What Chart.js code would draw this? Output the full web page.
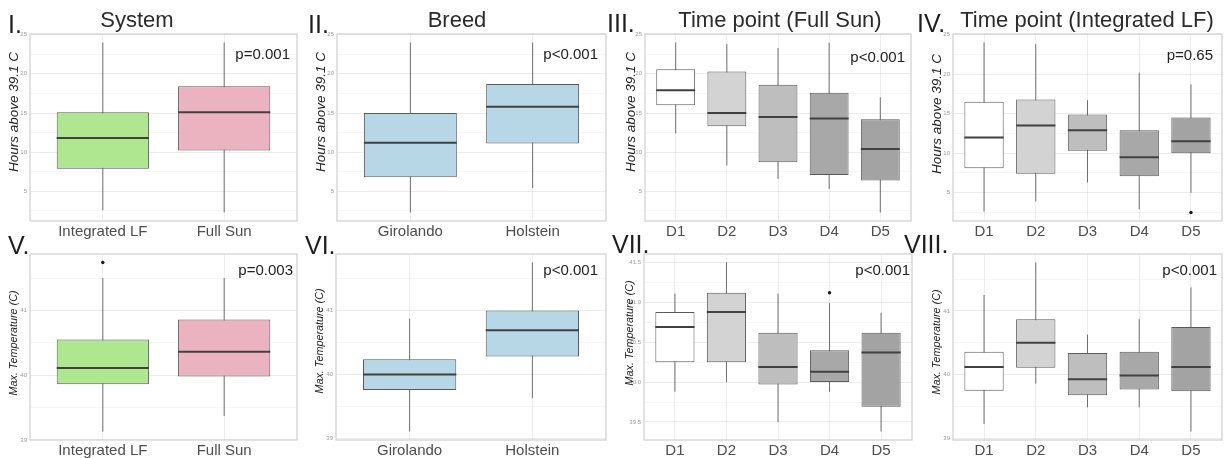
<!DOCTYPE html>
<html>
<head>
<meta charset="utf-8">
<script src="https://cdn.jsdelivr.net/npm/chart.js@4.4.1/dist/chart.umd.min.js"></script>
<style>
  body { margin: 0; background: #fff; }
  #page { position: relative; width: 1231px; height: 458px; overflow: hidden; font-family: "Liberation Sans", Arial, sans-serif; }
  #page canvas { position: absolute; }
  .txt { position: absolute; white-space: nowrap; line-height: 1; }
  .ytitle { position: absolute; white-space: nowrap; line-height: 1; font-style: italic; color: #222; transform: translate(-50%, -50%) rotate(-90deg); }
</style>
</head>
<body>
<div id="page"></div>
<script>
// categories
const systemCats = ['Integrated LF', 'Full Sun'];
const breedCats = ['Girolando', 'Holstein'];
const dayCats = ['D1', 'D2', 'D3', 'D4', 'D5'];

// tick labels
const hoursTicks = [5, 10, 15, 20, 25];
const tempTicks = [39, 40, 41];
const tempTicksFine = [39.5, 40.0, 40.5, 41.0, 41.5];

// I. hours above 39.1 C by system
const sysHoursLow = [2.6, 2.3];
const sysHoursQ1 = [7.9, 10.2];
const sysHoursMed = [11.8, 15.1];
const sysHoursQ3 = [15.1, 18.4];
const sysHoursHigh = [24.0, 24.0];

// II. hours by breed
const breedHoursLow = [2.3, 5.4];
const breedHoursQ1 = [6.8, 11.1];
const breedHoursMed = [11.2, 15.8];
const breedHoursQ3 = [15.0, 18.7];
const breedHoursHigh = [24.0, 24.0];

// III. hours by day, full sun
const fsHoursLow = [12.4, 8.3, 6.6, 5.3, 2.3];
const fsHoursQ1 = [16.0, 13.3, 8.7, 7.1, 6.4];
const fsHoursMed = [17.9, 15.0, 14.5, 14.3, 10.4];
const fsHoursQ3 = [20.6, 20.3, 18.6, 17.6, 14.2];
const fsHoursHigh = [24.0, 23.8, 23.3, 24.0, 17.0];

// IV. hours by day, integrated LF
const ilHoursLow = [2.6, 3.9, 6.3, 2.9, 5.0];
const ilHoursQ1 = [8.1, 7.4, 10.3, 7.1, 10.0];
const ilHoursMed = [12.0, 13.5, 12.9, 9.5, 11.5];
const ilHoursQ3 = [16.5, 16.8, 14.9, 12.9, 14.5];
const ilHoursHigh = [24.0, 23.8, 16.7, 20.2, 18.7];
const ilHoursOut = [[4, 2.5]];

// V. max temperature by system
const sysTempLow = [39.13, 39.37];
const sysTempQ1 = [39.86, 39.98];
const sysTempMed = [40.11, 40.36];
const sysTempQ3 = [40.55, 40.86];
const sysTempHigh = [41.5, 41.5];
const sysTempOut = [[0, 41.74]];

// VI. max temperature by breed
const breedTempLow = [39.11, 39.63];
const breedTempQ1 = [39.76, 40.28];
const breedTempMed = [40.0, 40.69];
const breedTempQ3 = [40.24, 41.0];
const breedTempHigh = [40.87, 41.75];

// VII. max temperature by day, full sun
const fsTempLow = [39.88, 40.0, 39.5, 39.88, 39.38];
const fsTempQ1 = [40.25, 40.25, 39.97, 40.0, 39.69];
const fsTempMed = [40.69, 40.88, 40.19, 40.13, 40.37];
const fsTempQ3 = [40.88, 41.12, 40.62, 40.4, 40.62];
const fsTempHigh = [41.11, 41.5, 41.11, 40.99, 40.87];
const fsTempOut = [[3, 41.12]];

// VIII. max temperature by day, integrated LF
const ilTempLow = [39.23, 39.86, 39.49, 39.49, 39.11];
const ilTempQ1 = [39.75, 40.11, 39.68, 39.77, 39.74];
const ilTempMed = [40.12, 40.5, 39.93, 39.99, 40.12];
const ilTempQ3 = [40.36, 40.87, 40.34, 40.36, 40.75];
const ilTempHigh = [41.25, 41.76, 40.63, 40.87, 41.37];

// box colours
const systemFill = ['#aee78f', '#ebb3bf'];
const breedFill = ['#b7d6e6', '#b7d6e6'];
const dayFill = ['#ffffff', '#d3d3d3', '#bebebe', '#a8a8a8', '#a3a3a3'];

const page = document.getElementById('page');
const FONT = '"Liberation Sans", Arial, sans-serif';
const BOX_W = 0.76;

const panels = [
    { cats: systemCats, low: sysHoursLow, q1: sysHoursQ1, med: sysHoursMed, q3: sysHoursQ3, high: sysHoursHigh, out: [],
      fill: systemFill, ticks: hoursTicks, rect: [30, 34, 297, 221] },
    { cats: breedCats, low: breedHoursLow, q1: breedHoursQ1, med: breedHoursMed, q3: breedHoursQ3, high: breedHoursHigh, out: [],
      fill: breedFill, ticks: hoursTicks, rect: [337, 34, 606, 221] },
    { cats: dayCats, low: fsHoursLow, q1: fsHoursQ1, med: fsHoursMed, q3: fsHoursQ3, high: fsHoursHigh, out: [],
      fill: dayFill, ticks: hoursTicks, rect: [645, 34, 911, 221] },
    { cats: dayCats, low: ilHoursLow, q1: ilHoursQ1, med: ilHoursMed, q3: ilHoursQ3, high: ilHoursHigh, out: ilHoursOut,
      fill: dayFill, ticks: hoursTicks, rect: [953, 34, 1222, 221] },
    { cats: systemCats, low: sysTempLow, q1: sysTempQ1, med: sysTempMed, q3: sysTempQ3, high: sysTempHigh, out: sysTempOut,
      fill: systemFill, ticks: tempTicks, rect: [30, 254, 297, 440] },
    { cats: breedCats, low: breedTempLow, q1: breedTempQ1, med: breedTempMed, q3: breedTempQ3, high: breedTempHigh, out: [],
      fill: breedFill, ticks: tempTicks, rect: [336, 254, 606, 440] },
    { cats: dayCats, low: fsTempLow, q1: fsTempQ1, med: fsTempMed, q3: fsTempQ3, high: fsTempHigh, out: fsTempOut,
      fill: dayFill, ticks: tempTicksFine, fixed: 1, rect: [644, 254, 912, 440] },
    { cats: dayCats, low: ilTempLow, q1: ilTempQ1, med: ilTempMed, q3: ilTempQ3, high: ilTempHigh, out: [],
      fill: dayFill, ticks: tempTicks, rect: [953, 254, 1222, 440] }
];

// grey panel border on top of everything
const frame = {
    id: 'frame',
    afterDraw(chart) {
        const a = chart.chartArea;
        const c = chart.ctx;
        c.save();
        c.strokeStyle = '#cfcfcf';
        c.lineWidth = 1.2;
        c.strokeRect(a.left, a.top, a.right - a.left, a.bottom - a.top);
        c.restore();
    }
};

function makePanel(p) {
    const [L, T, R, B] = p.rect;
    const axisW = 30, axisH = 22, padT = 7, padR = 4;
    const canvas = document.createElement('canvas');
    canvas.width = R - L + axisW + padR;
    canvas.height = B - T + padT + axisH;
    canvas.style.left = (L - axisW) + 'px';
    canvas.style.top = (T - padT) + 'px';
    page.appendChild(canvas);

    const n = p.cats.length;
    // ggplot style range: data range plus 5% each side
    const all = p.low.concat(p.high, p.out.map(o => o[1]));
    const lo = Math.min(...all), hi = Math.max(...all);
    const yMin = lo - (hi - lo) * 0.05;
    const yMax = hi + (hi - lo) * 0.05;

    // major ticks plus minor lines halfway between
    const half = (p.ticks[1] - p.ticks[0]) / 2;
    const yVals = [];
    for (let k = -1; k <= p.ticks.length * 2; k++) {
        const v = p.ticks[0] + k * half;
        if (v >= yMin && v <= yMax) yVals.push(v);
    }
    const isMajor = v => p.ticks.some(t => Math.abs(t - v) < 1e-6);

    const whiskers = p.cats.flatMap((_, i) => [
        { x: i + 1, y: p.low[i] }, { x: i + 1, y: p.high[i] }, { x: i + 1.5, y: null }
    ]);
    const boxes = p.cats.map((_, i) => ({ x: i + 1, y: [p.q1[i], p.q3[i]] }));
    const medians = p.cats.flatMap((_, i) => [
        { x: i + 1 - BOX_W / 2, y: p.med[i] }, { x: i + 1 + BOX_W / 2, y: p.med[i] }, { x: i + 1.5, y: null }
    ]);
    const outliers = p.out.map(o => ({ x: o[0] + 1, y: o[1] }));

    new Chart(canvas, {
        type: 'bar',
        data: {
            datasets: [
                { type: 'line', data: whiskers, borderColor: '#6e6e6e', borderWidth: 1, pointRadius: 0, spanGaps: false, order: 3 },
                { type: 'bar', data: boxes, backgroundColor: p.fill, borderColor: '#5a5a5a', borderWidth: 1,
                  borderSkipped: false, grouped: false, categoryPercentage: 1, barPercentage: BOX_W, order: 2 },
                { type: 'line', data: medians, borderColor: '#414141', borderWidth: 2, pointRadius: 0, spanGaps: false, order: 1 },
                { type: 'line', data: outliers, showLine: false, pointRadius: 1.7, pointBorderWidth: 0,
                  pointBackgroundColor: '#1a1a1a', order: 0 }
            ]
        },
        options: {
            responsive: false,
            animation: false,
            events: [],
            layout: { padding: { top: padT, right: padR, left: 0, bottom: 0 } },
            plugins: { legend: { display: false }, tooltip: { enabled: false } },
            scales: {
                x: {
                    type: 'linear', min: 0.4, max: n + 0.6, offset: false,
                    grid: { color: 'rgba(0,0,0,0.07)', drawTicks: false, offset: false },
                    border: { display: false },
                    ticks: {
                        autoSkip: false, maxRotation: 0, padding: 2, color: '#4d4d4d',
                        font: { family: FONT, size: 15 },
                        callback: v => p.cats[Math.round(v) - 1]
                    },
                    afterBuildTicks: s => { s.ticks = p.cats.map((_, i) => ({ value: i + 1 })); },
                    afterFit: s => { s.height = axisH; }
                },
                y: {
                    type: 'linear', min: yMin, max: yMax,
                    grid: {
                        drawTicks: false,
                        color: ctx => ctx.tick && isMajor(ctx.tick.value) ? 'rgba(0,0,0,0.075)' : 'rgba(0,0,0,0.035)'
                    },
                    border: { display: false },
                    ticks: {
                        autoSkip: false, padding: 3, color: '#9a9a9a',
                        font: { family: FONT, size: 6 },
                        callback: v => isMajor(v) ? (p.fixed ? v.toFixed(1) : String(Math.round(v))) : ''
                    },
                    afterBuildTicks: s => { s.ticks = yVals.map(v => ({ value: v })); },
                    afterFit: s => { s.width = axisW; }
                }
            }
        },
        plugins: [frame]
    });
}

function addText(text, x, y, size, color, align) {
    const d = document.createElement('div');
    d.className = 'txt';
    d.textContent = text;
    d.style.fontSize = size + 'px';
    d.style.color = color;
    d.style.top = y + 'px';
    if (align === 'center') {
        d.style.left = (x - 200) + 'px';
        d.style.width = '400px';
        d.style.textAlign = 'center';
    } else if (align === 'right') {
        d.style.left = (x - 200) + 'px';
        d.style.width = '200px';
        d.style.textAlign = 'right';
    } else {
        d.style.left = x + 'px';
    }
    page.appendChild(d);
}

function addYTitle(text, cx, cy, size) {
    const d = document.createElement('div');
    d.className = 'ytitle';
    d.textContent = text;
    d.style.fontSize = size + 'px';
    d.style.left = cx + 'px';
    d.style.top = cy + 'px';
    page.appendChild(d);
}

panels.forEach(makePanel);

// panel titles
addText('System', 137, 9, 22, '#2b2b2b', 'center');
addText('Breed', 457, 9, 22, '#2b2b2b', 'center');
addText('Time point (Full Sun)', 780, 9, 22, '#2b2b2b', 'center');
addText('Time point (Integrated LF)', 1087, 9, 22, '#2b2b2b', 'center');

// roman numerals
addText('I.', 8, 12, 25, '#1e1e1e');
addText('II.', 308, 12, 25, '#1e1e1e');
addText('III.', 607, 11, 25, '#1e1e1e');
addText('IV.', 917, 11, 25, '#1e1e1e');
addText('V.', 8, 233, 25, '#1e1e1e');
addText('VI.', 305, 233, 25, '#1e1e1e');
addText('VII.', 612, 232, 25, '#1e1e1e');
addText('VIII.', 904, 232, 25, '#1e1e1e');

// p-values
addText('p=0.001', 290, 46, 15, '#222', 'right');
addText('p<0.001', 598, 46, 15, '#222', 'right');
addText('p<0.001', 905, 49, 15, '#222', 'right');
addText('p=0.65', 1213, 47, 15, '#222', 'right');
addText('p=0.003', 293, 262, 15, '#222', 'right');
addText('p<0.001', 598, 262, 15, '#222', 'right');
addText('p<0.001', 910, 262, 15, '#222', 'right');
addText('p<0.001', 1217, 262, 15, '#222', 'right');

// y axis titles
addYTitle('Hours above 39.1 C', 14, 112, 13.5);
addYTitle('Hours above 39.1 C', 321, 112, 13.5);
addYTitle('Hours above 39.1 C', 631, 112, 13.5);
addYTitle('Hours above 39.1 C', 937, 114, 13.5);
addYTitle('Max. Temperature (C)', 13, 343, 10.8);
addYTitle('Max. Temperature (C)', 319, 341, 10.8);
addYTitle('Max. Temperature (C)', 629, 333, 10.8);
addYTitle('Max. Temperature (C)', 936, 342, 10.8);
</script>
</body>
</html>
